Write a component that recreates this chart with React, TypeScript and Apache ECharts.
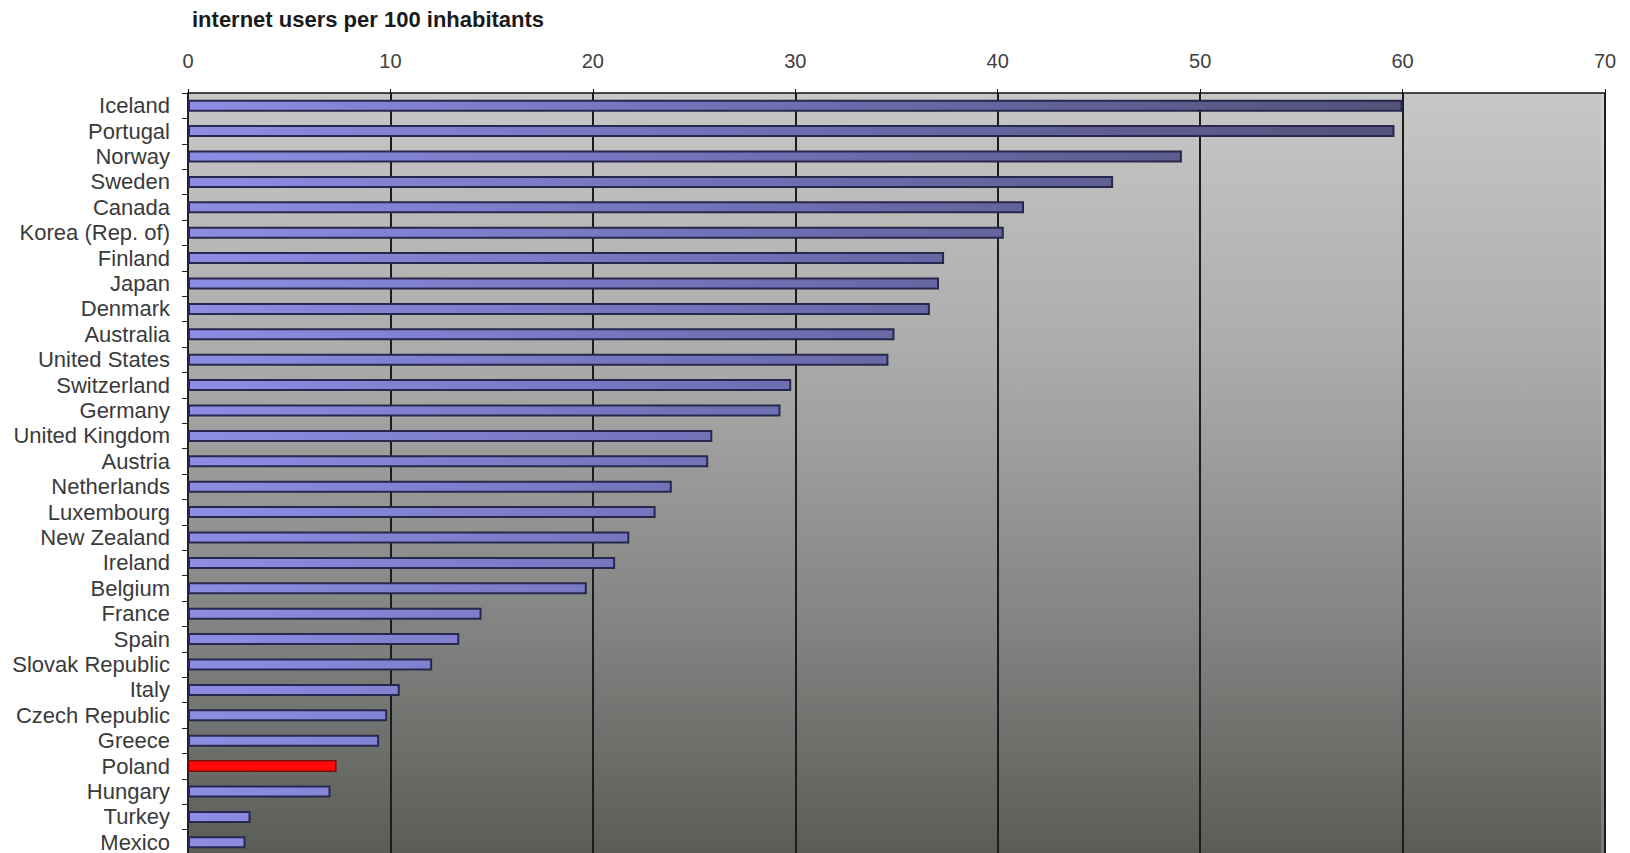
import React, { useEffect, useRef } from "react";
import * as echarts from "echarts";

const titleText = "internet users per 100 inhabitants";

const countries = [
  "Iceland", "Portugal", "Norway", "Sweden", "Canada", "Korea (Rep. of)",
  "Finland", "Japan", "Denmark", "Australia", "United States", "Switzerland",
  "Germany", "United Kingdom", "Austria", "Netherlands", "Luxembourg",
  "New Zealand", "Ireland", "Belgium", "France", "Spain", "Slovak Republic",
  "Italy", "Czech Republic", "Greece", "Poland", "Hungary", "Turkey", "Mexico",
];

const usersPer100 = [
  60.0, 59.6, 49.1, 45.7, 41.3, 40.3, 37.35, 37.1, 36.65, 34.9, 34.6, 29.8,
  29.27, 25.9, 25.7, 23.9, 23.1, 21.8, 21.1, 19.7, 14.5, 13.4, 12.06, 10.46,
  9.84, 9.44, 7.34, 7.04, 3.09, 2.84,
];

const highlighted = "Poland";

const xMin = 0;
const xMax = 70;
const xInterval = 10;

export default function App() {
  const ref = useRef<HTMLDivElement>(null);

  useEffect(() => {
    if (!ref.current) return;
    const chart = echarts.init(ref.current, undefined, { renderer: "svg" });

    const gridLeft = 188;
    const gridRight = 25;
    const gridTop = 93;
    const gridHeight = 762;

    const barGradient = new echarts.graphic.LinearGradient(
      188, 0, 1400, 0,
      [
        { offset: 0, color: "#8d8de4" },
        { offset: 0.45, color: "#7070b6" },
        { offset: 1, color: "#52527a" },
      ],
      true
    );

    const bgGradient = new echarts.graphic.LinearGradient(0, 0, 0, 1, [
      { offset: 0, color: "#c7c7c7" },
      { offset: 0.35, color: "#ababa9" },
      { offset: 0.7, color: "#828481" },
      { offset: 1, color: "#5a5c58" },
    ]);

    const seriesData = usersPer100.map((v, i) =>
      countries[i] === highlighted
        ? {
            value: v,
            itemStyle: {
              color: "#ff0a0a",
              borderColor: "#7a1010",
              borderWidth: 1.5,
            },
          }
        : { value: v }
    );

    chart.setOption({
      animation: false,
      backgroundColor: "#ffffff",
      title: {
        text: titleText,
        left: 187,
        top: 3,
        textStyle: {
          fontFamily: "'Liberation Sans', Arial, sans-serif",
          fontSize: 22,
          fontWeight: "bold",
          color: "#1a1a1a",
        },
      },
      grid: {
        left: gridLeft,
        right: gridRight,
        top: gridTop,
        height: gridHeight,
        show: true,
        backgroundColor: bgGradient,
        borderWidth: 0,
      },
      xAxis: {
        type: "value",
        position: "top",
        min: xMin,
        max: xMax,
        interval: xInterval,
        axisLine: { show: true, lineStyle: { color: "#111111", width: 1.5 } },
        axisTick: { show: true, length: 4, lineStyle: { color: "#111111" } },
        axisLabel: {
          margin: 22,
          fontFamily: "'Liberation Sans Narrow', 'Liberation Sans', Arial, sans-serif",
          fontSize: 20,
          color: "#404040",
        },
        splitLine: {
          show: true,
          lineStyle: { color: "#1c1c1c", width: 2 },
        },
      },
      yAxis: {
        type: "category",
        inverse: true,
        data: countries,
        axisLine: { show: true, lineStyle: { color: "#222222", width: 1.5 } },
        axisTick: {
          show: true,
          length: 6,
          alignWithLabel: false,
          interval: 0,
          lineStyle: { color: "#222222" },
        },
        axisLabel: {
          interval: 0,
          margin: 18,
          fontFamily: "'Liberation Sans', Arial, sans-serif",
          fontSize: 22,
          color: "#3a3a3a",
        },
        splitLine: { show: false },
      },
      series: [
        {
          type: "bar",
          data: seriesData,
          barWidth: 12,
          itemStyle: {
            color: barGradient,
            borderColor: "#28284e",
            borderWidth: 2,
          },
        },
      ],
      graphic: [
        {
          type: "rect",
          shape: { x: 1601, y: gridTop + 1, width: 3, height: gridHeight },
          style: { fill: "rgba(255,255,255,0.18)" },
          silent: true,
        },
      ],
    });

    return () => chart.dispose();
  }, []);

  return (
    <div
      ref={ref}
      style={{ position: "fixed", left: 0, top: 0, width: 1630, height: 860 }}
    />
  );
}
